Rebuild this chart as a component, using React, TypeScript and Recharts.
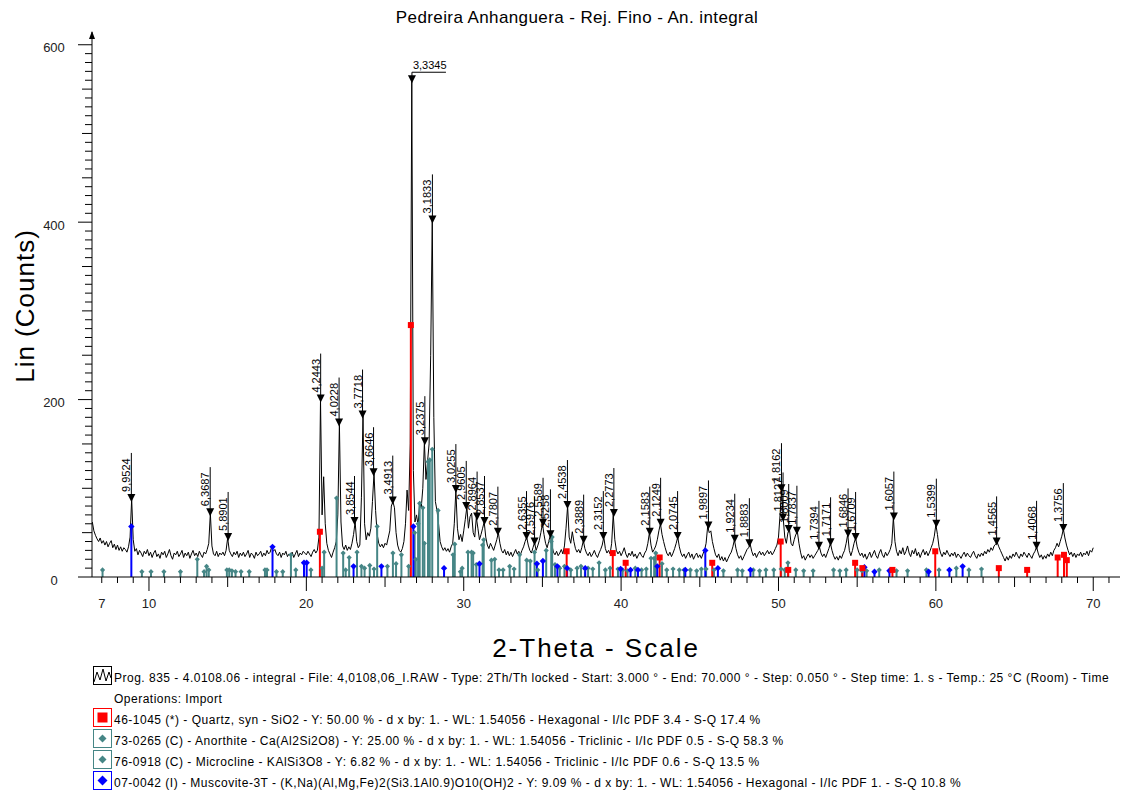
import React from 'react';
import { ComposedChart, Line, XAxis, YAxis, Scatter, ReferenceLine, Label } from 'recharts';

const scanStart = 6.4;
const scanStep = 0.1;
const counts: number[] = [
  62, 52, 47, 43, 40, 44,
  38, 41, 36, 40, 34, 38, 41, 33, 37, 31, // 7
  36, 30, 34, 29, 33, 31, 28, 34, 45, 88, // 8
  42, 29, 32, 25, 30, 27, 23, 29, 26, 31, // 9
  24, 28, 22, 27, 30, 23, 26, 21, 28, 25, // 10
  29, 22, 26, 31, 24, 20, 27, 25, 29, 23, // 11
  26, 30, 22, 27, 24, 28, 21, 26, 30, 24, // 12
  27, 23, 29, 25, 22, 28, 26, 31, 38, 72, // 13
  35, 26, 24, 29, 23, 27, 25, 28, 24, 30, // 14
  44, 30, 26, 23, 28, 25, 29, 22, 27, 24, // 15
  28, 23, 26, 30, 22, 27, 25, 21, 28, 24, // 16
  26, 29, 23, 27, 24, 30, 26, 28, 34, 29, // 17
  31, 26, 24, 28, 22, 27, 25, 29, 23, 26, // 18
  24, 28, 22, 26, 30, 23, 27, 25, 29, 27, // 19
  25, 29, 26, 23, 28, 31, 27, 30, 45, 200, // 20
  70, 113, 60, 38, 30, 26, 22, 28, 33, 40, // 21
  70, 173, 62, 35, 31, 36, 30, 34, 31, 38, // 22
  48, 62, 40, 33, 36, 90, 182, 60, 42, 50, // 23
  46, 55, 85, 117, 75, 48, 38, 34, 37, 33, // 24
  38, 36, 44, 52, 80, 85, 78, 50, 36, 30, // 25
  28, 32, 40, 60, 98, 75, 150, 560, 120, 62, // 26
  70, 58, 85, 78, 100, 152, 110, 130, 150, 250, // 27
  402, 180, 85, 75, 60, 40, 34, 30, 33, 29, // 28
  32, 28, 34, 38, 60, 98, 55, 42, 48, 40, // 29
  52, 65, 79, 55, 68, 72, 50, 45, 67, 55, // 30
  42, 48, 55, 62, 45, 36, 32, 38, 34, 30, // 31
  36, 42, 50, 38, 30, 27, 31, 25, 29, 24, // 32
  28, 23, 27, 31, 26, 29, 25, 30, 34, 40, // 33
  45, 36, 30, 27, 33, 39, 30, 35, 41, 50, // 34
  60, 48, 38, 33, 40, 47, 36, 28, 25, 29, // 35
  24, 27, 31, 26, 35, 55, 80, 45, 38, 51, // 36
  40, 32, 28, 31, 27, 33, 41, 32, 27, 24, // 37
  28, 23, 26, 30, 25, 22, 27, 31, 36, 45, // 38
  32, 27, 30, 26, 38, 71, 42, 30, 26, 29, // 39
  24, 28, 33, 26, 22, 27, 24, 29, 23, 26, // 40
  21, 25, 28, 24, 22, 27, 30, 38, 50, 36, // 41
  28, 31, 35, 42, 52, 60, 48, 40, 33, 27, // 42
  24, 28, 23, 27, 32, 38, 45, 34, 27, 23, // 43
  26, 21, 25, 28, 22, 26, 20, 24, 27, 22, // 44
  25, 21, 26, 30, 38, 57, 50, 52, 40, 32, // 45
  25, 22, 26, 19, 23, 18, 22, 17, 21, 25, // 46
  28, 34, 42, 32, 25, 21, 24, 19, 23, 27, // 47
  31, 33, 37, 29, 24, 27, 22, 26, 29, 25, // 48
  28, 24, 27, 30, 26, 29, 25, 28, 32, 36, // 49
  45, 70, 99, 66, 45, 38, 50, 53, 38, 35, // 50
  42, 48, 51, 38, 28, 21, 24, 19, 23, 26, // 51
  22, 25, 21, 24, 27, 30, 34, 27, 23, 26, // 52
  22, 27, 32, 38, 30, 24, 20, 23, 19, 24, // 53
  21, 26, 30, 38, 48, 30, 24, 30, 38, 44, // 54
  34, 28, 24, 27, 22, 26, 20, 24, 28, 22, // 55
  26, 30, 24, 21, 27, 31, 25, 22, 28, 24, // 56
  27, 31, 38, 67, 40, 29, 24, 30, 26, 33, // 57
  25, 29, 35, 27, 23, 30, 26, 32, 24, 28, // 58
  22, 27, 31, 25, 29, 24, 28, 33, 38, 46, // 59
  59, 48, 34, 27, 23, 28, 25, 30, 26, 23, // 60
  27, 24, 28, 22, 26, 24, 21, 25, 28, 23, // 61
  27, 24, 22, 26, 29, 24, 21, 26, 23, 27, // 62
  24, 29, 26, 31, 28, 33, 30, 35, 37, 39, // 63
  34, 30, 26, 22, 18, 23, 19, 24, 21, 26, // 64
  23, 28, 24, 21, 26, 23, 28, 25, 22, 27, // 65
  24, 21, 26, 29, 34, 27, 22, 25, 20, 24, // 66
  21, 26, 23, 28, 24, 30, 33, 38, 34, 40, // 67
  46, 54, 44, 36, 30, 25, 28, 23, 27, 22, // 68
  26, 24, 28, 23, 27, 25, 29, 24, 30, 28, // 69
  33, // 70
];

// ---------- peak labels (d-spacing, position, height) ----------
const peakLabels = ['9,9524', '6,3687', '5,8901', '4,2443', '4,0228', '3,8544', '3,7718', '3,6646', '3,4913', '3,3345', '3,2375', '3,1833', '3,0255', '2,9605', '2,8964', '2,8537', '2,7807', '2,6355', '2,5976', '2,5589', '2,5258', '2,4538', '2,3889', '2,3152', '2,2773', '2,1583', '2,1249', '2,0745', '1,9897', '1,9234', '1,8883', '1,8162', '1,8127', '1,8009', '1,7837', '1,7394', '1,7171', '1,6846', '1,6709', '1,6057', '1,5399', '1,4565', '1,4068', '1,3756'];
const peakTwoTheta = [8.88, 13.89, 15.03, 20.91, 22.08, 23.06, 23.57, 24.27, 25.49, 26.71, 27.53, 28.01, 29.5, 30.16, 30.85, 31.32, 32.17, 33.99, 34.5, 35.04, 35.51, 36.59, 37.62, 38.87, 39.54, 41.82, 42.51, 43.59, 45.55, 47.22, 48.15, 50.19, 50.29, 50.65, 51.17, 52.57, 53.31, 54.42, 54.9, 57.33, 60.03, 63.86, 66.4, 68.1];
const peakCounts = [88, 72, 44, 200, 173, 62, 182, 117, 85, 560, 152, 402, 98, 79, 67, 62, 50, 45, 39, 60, 47, 80, 41, 45, 71, 50, 60, 45, 57, 42, 37, 99, 66, 53, 51, 34, 38, 48, 44, 67, 59, 39, 34, 54];

// ---------- reference patterns (stick positions / heights) ----------
const quartzPos = [20.86, 26.64, 36.54, 39.47, 40.29, 42.45, 45.79, 50.14, 50.62, 54.87, 55.33, 57.24, 59.96, 64.0, 65.8, 67.74, 68.14, 68.32];
const quartzCounts = [51, 284, 29, 27, 16, 22, 16, 40, 8, 16, 10, 8, 29, 10, 8, 22, 25, 19];

const anorthitePos = [7.05, 9.55, 10.13, 10.95, 12.0, 13.07, 13.66, 13.8, 14.95, 15.1, 15.27, 15.85, 16.37, 17.37, 17.5, 18.1, 19.02, 19.33, 20.29, 21.13, 21.92, 22.34, 22.72, 23.22, 23.5, 24.03, 24.5, 25.15, 25.5, 26.04, 26.88, 27.1, 27.2, 27.4, 27.73, 27.84, 28.0, 28.37, 29.32, 29.43, 29.79, 30.27, 30.6, 31.2, 31.27, 31.76, 31.97, 32.24, 32.92, 33.55, 34.0, 34.23, 34.5, 35.24, 35.56, 35.62, 36.1, 36.4, 37.2, 37.45, 37.9, 38.6, 39.3, 39.8, 40.4, 40.9, 41.3, 41.9, 42.1, 42.2, 42.6, 43.3, 43.7, 44.4, 44.8, 45.1, 45.9, 46.5, 47.4, 48.4, 49.2, 49.7, 50.17, 50.6, 51.1, 51.6, 52.2, 53.5, 54.3, 55.0, 55.6, 56.4, 57.5, 58.2, 59.4, 60.2, 61.3, 62.1, 62.9];
const anorthiteCounts = [8, 6, 6, 6, 6, 20, 12, 8, 8, 8, 7, 6, 6, 8, 8, 6, 25, 8, 8, 28, 89, 27, 22, 28, 12, 13, 57, 12, 27, 25, 50, 60, 83, 78, 130, 132, 144, 75, 25, 37, 6, 28, 27, 36, 42, 19, 20, 8, 12, 25, 19, 18, 28, 30, 40, 45, 10, 12, 10, 12, 10, 16, 10, 9, 7, 10, 8, 21, 21, 27, 15, 9, 8, 8, 7, 9, 8, 7, 8, 8, 8, 8, 9, 16, 8, 7, 7, 8, 8, 8, 7, 8, 7, 7, 8, 8, 10, 8, 9];

const microclinePos = [13.5, 15.5, 18.5, 21.0, 22.5, 23.7, 24.3, 25.7, 26.5, 26.95, 27.5, 29.9, 30.5, 30.8, 32.5, 33.2, 34.7, 35.8, 36.8, 37.7, 38.2, 39.0, 40.1, 41.6, 42.9, 44.0, 45.4, 47.7, 48.8, 50.4, 53.9, 55.3];
const microclineCounts = [6, 6, 6, 10, 8, 10, 9, 15, 12, 20, 38, 10, 28, 14, 8, 9, 8, 14, 8, 9, 9, 8, 8, 9, 8, 8, 9, 7, 7, 8, 7, 7];

const muscovitePos = [8.88, 17.85, 19.85, 20.02, 23.0, 24.77, 26.8, 28.75, 31.0, 34.65, 35.03, 35.95, 36.57, 37.72, 39.97, 40.6, 41.07, 42.3, 44.08, 45.35, 46.15, 48.22, 55.46, 56.1, 57.05, 59.54, 60.86, 61.7];
const muscoviteCounts = [57, 34, 16, 16, 12, 12, 57, 10, 15, 15, 18, 12, 10, 10, 9, 8, 8, 12, 8, 30, 10, 8, 11, 6, 7, 6, 8, 12];

// ---------- axes ----------
const xTicks = Array.from({ length: 65 }, (_, i) => 7 + i); // 7..71
const xLabelValues = [7, 10, 20, 30, 40, 50, 60, 70];
const yTicks = Array.from({ length: 61 }, (_, i) => i * 10); // 0..600

const title = 'Pedreira Anhanguera - Rej. Fino - An. integral';
const xTitle = '2-Theta - Scale';
const yTitle = 'Lin (Counts)';

const legendTexts = [
  'Prog. 835 - 4.0108.06 - integral - File: 4,0108,06_I.RAW - Type: 2Th/Th locked - Start: 3.000 ° - End: 70.000 ° - Step: 0.050 ° - Step time: 1. s - Temp.: 25 °C (Room) - Time',
  'Operations: Import',
  '46-1045 (*) - Quartz, syn - SiO2 - Y: 50.00 % - d x by: 1. - WL: 1.54056 - Hexagonal - I/Ic PDF 3.4 - S-Q 17.4 %',
  '73-0265 (C) - Anorthite - Ca(Al2Si2O8) - Y: 25.00 % - d x by: 1. - WL: 1.54056 - Triclinic - I/Ic PDF 0.5 - S-Q 58.3 %',
  '76-0918 (C) - Microcline - KAlSi3O8 - Y: 6.82 % - d x by: 1. - WL: 1.54056 - Triclinic - I/Ic PDF 0.6 - S-Q 13.5 %',
  '07-0042 (I) - Muscovite-3T - (K,Na)(Al,Mg,Fe)2(Si3.1Al0.9)O10(OH)2 - Y: 9.09 % - d x by: 1. - WL: 1.54056 - Hexagonal - I/Ic PDF 1. - S-Q 10.8 %',
];
const legendIcons = ['scan', 'none', 'quartz', 'anorthite', 'microcline', 'muscovite'];

const RED = '#ff0000';
const TEAL = '#468686';
const BLUE = '#0000ff';
const FONT = '"Liberation Sans", Arial, Helvetica, sans-serif';

const scanData = counts.map((c, i) => ({ x: Number((scanStart + i * scanStep).toFixed(2)), y: c }));
const peakData = peakLabels.map((label, i) => ({ x: peakTwoTheta[i], y: peakCounts[i], label }));
const toPoints = (pos: number[], vals: number[]) => pos.map((p, i) => ({ x: p, y: vals[i] }));
const quartzData = toPoints(quartzPos, quartzCounts);
const anorthiteData = toPoints(anorthitePos, anorthiteCounts);
const microclineData = toPoints(microclinePos, microclineCounts);
const muscoviteData = toPoints(muscovitePos, muscoviteCounts);

const XTick = (props: any) => {
  const { x, y, payload } = props;
  const v = payload.value;
  const len = v % 10 === 0 ? 14 : v % 5 === 0 ? 10 : 6;
  return (
    <g>
      <line x1={x} y1={y} x2={x} y2={y + len} stroke="#000" strokeWidth={1} />
      {xLabelValues.includes(v) && (
        <text x={x} y={y + 26} textAnchor="middle" dominantBaseline="central" fontSize={13} fontFamily={FONT} fill="#222">
          {v}
        </text>
      )}
    </g>
  );
};

const YTick = (props: any) => {
  const { x, y, payload } = props;
  const v = payload.value;
  const len = v % 200 === 0 ? 14 : v % 50 === 0 ? 10 : 7;
  return (
    <g>
      <line x1={x - len} y1={y} x2={x} y2={y} stroke="#000" strokeWidth={1} />
      {v % 200 === 0 && (
        <text x={x - 38} y={y + 3} textAnchor="middle" dominantBaseline="central" fontSize={13} fontFamily={FONT} fill="#222">
          {v}
        </text>
      )}
    </g>
  );
};

const PeakMark = (props: any) => {
  const { cx, cy, payload } = props;
  if (cx == null || cy == null) return null;
  const tri = `M${cx - 4},${cy - 5} L${cx + 4},${cy - 5} L${cx},${cy + 3} Z`;
  if (cy < 100) {
    const top = cy - 8;
    return (
      <g>
        <line x1={cx} y1={cy} x2={cx} y2={top} stroke="#000" strokeWidth={1} />
        <line x1={cx} y1={top} x2={cx + 34} y2={top} stroke="#000" strokeWidth={1} />
        <path d={tri} fill="#000" />
        <text x={cx + 1} y={top - 3} fontSize={11} fontFamily={FONT} fill="#000">{payload.label}</text>
      </g>
    );
  }
  const top = cy - 46;
  return (
    <g>
      <line x1={cx} y1={cy} x2={cx} y2={top} stroke="#000" strokeWidth={1} />
      <path d={tri} fill="#000" />
      <text transform={`translate(${cx - 1},${cy - 7}) rotate(-90)`} fontSize={11} fontFamily={FONT} fill="#000">
        {payload.label}
      </text>
    </g>
  );
};

const SquareMark = (props: any) => {
  const { cx, cy } = props;
  if (cx == null || cy == null) return null;
  return <rect x={cx - 3} y={cy - 3} width={6} height={6} fill={RED} />;
};
const makeDiamond = (color: string, r: number) => (props: any) => {
  const { cx, cy } = props;
  if (cx == null || cy == null) return null;
  return <path d={`M${cx},${cy - r} L${cx + r},${cy} L${cx},${cy + r} L${cx - r},${cy} Z`} fill={color} />;
};
const TealMark = makeDiamond(TEAL, 2.6);
const BlueMark = makeDiamond(BLUE, 3.2);

const sticks = (data: { x: number; y: number }[], color: string, key: string) =>
  data.map((d, i) => (
    <ReferenceLine
      key={`${key}-${i}`}
      segment={[{ x: d.x, y: 0 }, { x: d.x, y: d.y }]}
      stroke={color}
      strokeWidth={2}
      ifOverflow="visible"
    />
  ));

const YTitle = (props: any) => {
  const vb = props.viewBox || { x: 32, y: 35, width: 60, height: 542 };
  const ax = vb.x + vb.width;
  return (
    <g>
      <text
        transform={`translate(${vb.x - 7},${vb.y + vb.height / 2}) rotate(-90)`}
        textAnchor="middle"
        dominantBaseline="central"
        fontSize={26}
        letterSpacing={1}
        fontFamily={FONT}
        fill="#000"
      >
        {yTitle}
      </text>
      <line x1={ax} y1={vb.y} x2={ax} y2={vb.y - 3} stroke="#000" />
      <path d={`M${ax},${vb.y - 4} L${ax - 3},${vb.y + 4} L${ax + 3},${vb.y + 4} Z`} fill="#000" />
    </g>
  );
};

const XTitle = (props: any) => {
  const vb = props.viewBox || { x: 92, y: 577, width: 1028, height: 30 };
  return (
    <text
      x={vb.x + vb.width / 2 - 10}
      y={vb.y + 71}
      textAnchor="middle"
      dominantBaseline="central"
      fontSize={26}
      letterSpacing={2}
      fontFamily={FONT}
      fill="#000"
    >
      {xTitle}
    </text>
  );
};

const LegendIcon = ({ kind }: { kind: string }) => {
  if (kind === 'none') return <div style={{ width: 19, height: 19 }} />;
  const border = kind === 'scan' ? '#000' : kind === 'quartz' ? RED : kind === 'muscovite' ? BLUE : TEAL;
  return (
    <svg width={19} height={19} style={{ display: 'block' }}>
      <rect x={0.5} y={0.5} width={18} height={18} fill="#fff" stroke={border} strokeWidth={1} />
      {kind === 'scan' && (
        <polyline points="1,16 4,6 7,14 10,3 13,15 16,6 18,12" fill="none" stroke="#000" strokeWidth={1} />
      )}
      {kind === 'quartz' && <rect x={4.5} y={4.5} width={10} height={10} fill={RED} />}
      {(kind === 'anorthite' || kind === 'microcline') && <path d="M9.5,5.5 L13.5,9.5 L9.5,13.5 L5.5,9.5 Z" fill={TEAL} />}
      {kind === 'muscovite' && <path d="M9.5,4.5 L14.5,9.5 L9.5,14.5 L4.5,9.5 Z" fill={BLUE} />}
    </svg>
  );
};

export default function App() {
  return (
    <div style={{ position: 'absolute', left: 0, top: 0, width: 1122, height: 791, background: '#fff', fontFamily: FONT, overflow: 'hidden' }}>
      <div style={{ position: 'absolute', left: 577, top: 8, transform: 'translateX(-50%)', fontSize: 17, letterSpacing: 0.4, color: '#000', whiteSpace: 'nowrap' }}>
        {title}
      </div>
      <ComposedChart width={1122} height={791} margin={{ top: 35, right: 2, bottom: 184, left: 32 }}>
        <XAxis
          type="number"
          dataKey="x"
          domain={[6.38, 71.7]}
          allowDataOverflow
          ticks={xTicks}
          interval={0}
          tickSize={0}
          tickMargin={0}
          tickLine={false}
          tick={<XTick />}
          axisLine={{ stroke: '#000' }}
          height={30}
        >
          <Label content={<XTitle />} />
        </XAxis>
        <YAxis
          type="number"
          domain={[0, 611]}
          allowDataOverflow
          ticks={yTicks}
          interval={0}
          tickSize={0}
          tickMargin={0}
          tickLine={false}
          tick={<YTick />}
          axisLine={{ stroke: '#000' }}
          width={60}
        >
          <Label content={<YTitle />} />
        </YAxis>
        <Line data={scanData} dataKey="y" type="linear" stroke="#000" strokeWidth={1} dot={false} isAnimationActive={false} />
        {sticks(anorthiteData, TEAL, 'an')}
        {sticks(microclineData, TEAL, 'mi')}
        {sticks(muscoviteData, BLUE, 'mu')}
        {sticks(quartzData, RED, 'qz')}
        <Scatter data={anorthiteData} dataKey="y" shape={TealMark} isAnimationActive={false} />
        <Scatter data={microclineData} dataKey="y" shape={TealMark} isAnimationActive={false} />
        <Scatter data={muscoviteData} dataKey="y" shape={BlueMark} isAnimationActive={false} />
        <Scatter data={quartzData} dataKey="y" shape={SquareMark} isAnimationActive={false} />
        <Scatter data={peakData} dataKey="y" shape={PeakMark} isAnimationActive={false} />
      </ComposedChart>
      {legendTexts.map((t, i) => (
        <div
          key={i}
          style={{ position: 'absolute', left: 93, top: 666 + i * 20.9, height: 21, display: 'flex', alignItems: 'flex-start', whiteSpace: 'nowrap' }}
        >
          <LegendIcon kind={legendIcons[i]} />
          <span style={{ fontSize: 12, letterSpacing: 0.5, lineHeight: '14px', marginTop: 5, marginLeft: 2, color: '#000' }}>{t}</span>
        </div>
      ))}
    </div>
  );
}
